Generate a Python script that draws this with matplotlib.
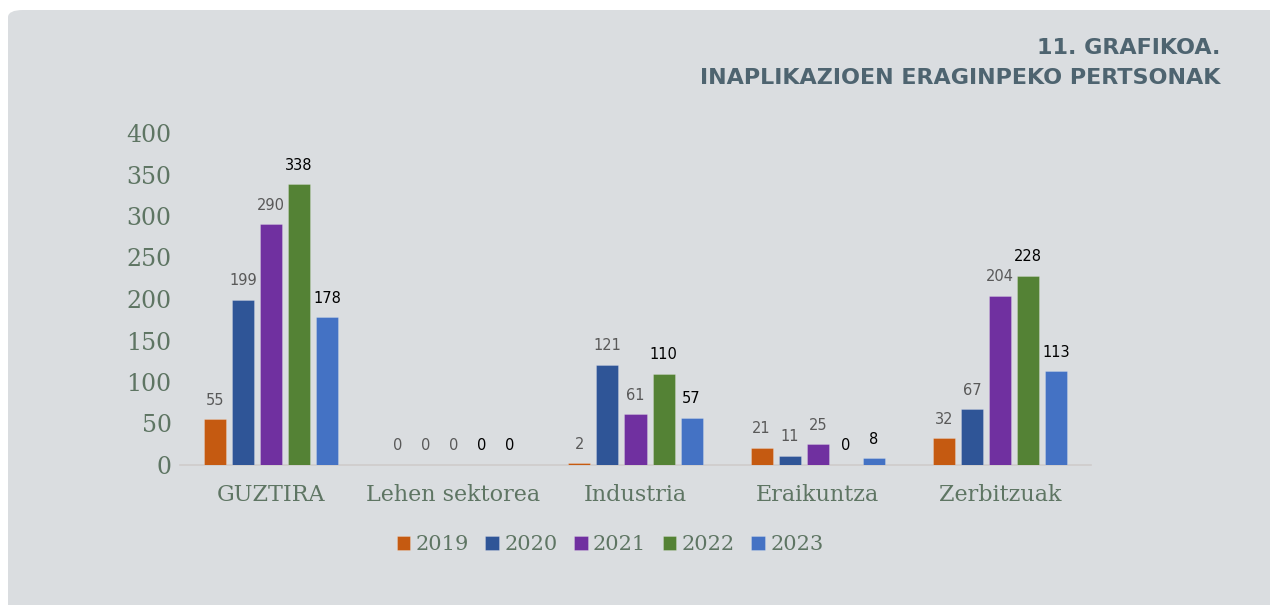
import matplotlib.pyplot as plt
from matplotlib.patches import FancyBboxPatch
import numpy as np

categories = ['GUZTIRA', 'Lehen sektorea', 'Industria', 'Eraikuntza', 'Zerbitzuak']
years = ['2019', '2020', '2021', '2022', '2023']
values = {
    '2019': [55, 0, 2, 21, 32],
    '2020': [199, 0, 121, 11, 67],
    '2021': [290, 0, 61, 25, 204],
    '2022': [338, 0, 110, 0, 228],
    '2023': [178, 0, 57, 8, 113],
}
colors = ['#C55A11', '#2F5597', '#7030A0', '#548235', '#4472C4']
label_colors = ['#595959', '#595959', '#595959', '#000000', '#000000']

W, H = 1270, 605
fig = plt.figure(figsize=(W / 100, H / 100), dpi=100)
fig.patch.set_facecolor('white')

# grey rounded panel
panel = FancyBboxPatch((8 / W, -0.1), 1.2, (H - 10) / H + 0.1,
                       boxstyle='round,pad=0,rounding_size=0.012',
                       transform=fig.transFigure, facecolor='#DADDE0',
                       edgecolor='none', zorder=-5)
fig.patches.append(panel)

ax = fig.add_axes([180 / W, (H - 465) / H, 911 / W, 332 / H])
ax.set_facecolor('none')
ax.set_zorder(2)

x = np.arange(len(categories))
step = 28 / 182
width = 22 / 182
for i, yr in enumerate(years):
    pos = x + (i - 2) * step
    bars = ax.bar(pos, values[yr], width, color=colors[i], label=yr,
                  edgecolor='#FFFFFF40', linewidth=0.6, zorder=3)
    for p, v in zip(pos, values[yr]):
        ax.text(p, v + 14, str(v), ha='center', va='bottom',
                fontsize=10.5, color=label_colors[i], family='DejaVu Sans')

ax.set_xlim(-0.5, 4.5)
ax.set_ylim(0, 400)
ax.set_yticks(range(0, 401, 50))
for s in ['top', 'right', 'left']:
    ax.spines[s].set_visible(False)
ax.spines['bottom'].set_color('#CFCBCB')
ax.spines['bottom'].set_linewidth(1.2)
ax.tick_params(length=0)
ax.tick_params(axis='y', pad=6)
ax.tick_params(axis='x', pad=14)
ax.set_xticks(x)
ax.set_xticklabels(categories)
for lbl in ax.get_yticklabels():
    lbl.set_fontfamily('DejaVu Serif')
    lbl.set_fontsize(17)
    lbl.set_color('#5E7563')
for lbl in ax.get_xticklabels():
    lbl.set_fontfamily('DejaVu Serif')
    lbl.set_fontsize(16)
    lbl.set_color('#5E7563')

leg = ax.legend(loc='center', bbox_to_anchor=(610 / W, (H - 545) / H),
                bbox_transform=fig.transFigure, ncol=5, frameon=False,
                handlelength=0.65, handleheight=0.65, handletextpad=0.25,
                columnspacing=0.8, prop={'family': 'DejaVu Serif', 'size': 15})
for t in leg.get_texts():
    t.set_color('#5E7563')

fig.text(1220 / W, (H - 48) / H, '11. GRAFIKOA.', ha='right', va='center',
         fontsize=16, fontweight='heavy', color='#4E6470', family='DejaVu Sans')
fig.text(1220 / W, (H - 78) / H, 'INAPLIKAZIOEN ERAGINPEKO PERTSONAK',
         ha='right', va='center', fontsize=16, fontweight='heavy',
         color='#4E6470', family='DejaVu Sans')

fig.savefig('out.png', dpi=100)
